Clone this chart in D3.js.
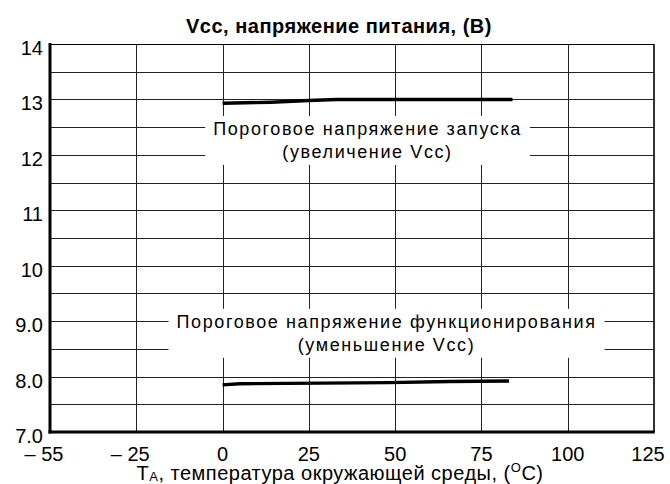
<!DOCTYPE html>
<html lang="ru">

<head>
    <meta charset="UTF-8" />
    <title>Vcc threshold vs temperature</title>
    <script src="https://d3js.org/d3.v7.js"></script>
    <style>
        body { margin: 0; background: #fff; }
        svg { display: block; font-family: "Liberation Sans", Arial, sans-serif; }
    </style>
</head>

<body>
    <script>

        var w = 670;
        var h = 484;

        // x ticks (degrees C) are spaced evenly on the original chart
        var tempTicks = [-55, -25, 0, 25, 50, 75, 100, 125];
        var tempLabels = ["\u2013 55", "\u2013 25", "0", "25", "50", "75", "100", "125"];

        var voltTicks = [7, 8, 9, 10, 11, 12, 13, 14];
        var voltLabels = ["7.0", "8.0", "9.0", "10", "11", "12", "13", "14"];

        // start threshold (Vcc rising)
        var startTemp = [0, 14, 25, 33, 84];
        var startVolt = [12.93, 12.95, 12.98, 13.0, 13.0];

        // operating threshold (Vcc falling)
        var stopTemp = [0, 5, 48, 66, 83];
        var stopVolt = [7.85, 7.87, 7.89, 7.91, 7.92];

        var titleText = "Vcc, напряжение питания, (В)";
        var startLabel = ["Пороговое напряжение запуска", "(увеличение Vcc)"];
        var stopLabel = ["Пороговое напряжение функционирования", "(уменьшение Vcc)"];

        // plot frame (window.top is read-only, so no plain "top")
        var plotL = 50, plotR = 654, plotT = 44, plotB = 432;

        var xScale = d3.scaleLinear()
            .domain(tempTicks)
            .range(tempTicks.map(function (d, i) {
                return plotL + i * (plotR - plotL) / (tempTicks.length - 1);
            }));

        var yScale = d3.scaleLinear()
            .domain([7, 14])
            .range([plotB, plotT]);

        var svg = d3.select("body")
            .append("svg")
            .attr("width", w)
            .attr("height", h);

        // grid, every 0.5 V
        var halfSteps = d3.range(7.5, 14, 0.5);
        svg.selectAll(".hgrid")
            .data(halfSteps)
            .enter()
            .append("line")
            .attr("class", "hgrid")
            .attr("x1", plotL).attr("x2", plotR)
            .attr("y1", function (d) { return Math.round(yScale(d)) + 0.5; })
            .attr("y2", function (d) { return Math.round(yScale(d)) + 0.5; })
            .attr("stroke", "#222")
            .attr("stroke-width", 1);

        svg.selectAll(".vgrid")
            .data(tempTicks.slice(1, -1))
            .enter()
            .append("line")
            .attr("class", "vgrid")
            .attr("x1", function (d) { return Math.round(xScale(d)) + 0.5; })
            .attr("x2", function (d) { return Math.round(xScale(d)) + 0.5; })
            .attr("y1", plotT).attr("y2", plotB)
            .attr("stroke", "#222")
            .attr("stroke-width", 1);

        // curve labels with white boxes that cut the grid
        function addLabel(lines, t, v) {
            var g = svg.append("g");
            var box = g.append("rect").attr("fill", "#fff");
            var txt = g.append("text")
                .attr("text-anchor", "middle")
                .attr("font-size", 18)
                .attr("letter-spacing", 1.6)
                .attr("fill", "#000");
            lines.forEach(function (s, i) {
                txt.append("tspan")
                    .attr("x", xScale(t))
                    .attr("y", yScale(v) + i * 23)
                    .text(s);
            });
            var bb = txt.node().getBBox();
            box.attr("x", bb.x - 8)
                .attr("y", bb.y - 3)
                .attr("width", bb.width + 16)
                .attr("height", bb.height + 6);
        }
        addLabel(startLabel, 42, 12.36);
        addLabel(stopLabel, 47.5, 8.88);

        // data lines
        var line = d3.line()
            .x(function (d) { return xScale(d[0]); })
            .y(function (d) { return yScale(d[1]); });

        [d3.zip(startTemp, startVolt), d3.zip(stopTemp, stopVolt)].forEach(function (pts) {
            svg.append("path")
                .attr("d", line(pts))
                .attr("fill", "none")
                .attr("stroke", "#000")
                .attr("stroke-width", 3.4);
        });

        // frame: thick left and bottom, thin top and right
        svg.append("line")
            .attr("x1", plotL).attr("x2", plotR)
            .attr("y1", plotT + 0.5).attr("y2", plotT + 0.5)
            .attr("stroke", "#000").attr("stroke-width", 1.2);
        svg.append("line")
            .attr("x1", plotR).attr("x2", plotR)
            .attr("y1", plotT).attr("y2", plotB)
            .attr("stroke", "#000").attr("stroke-width", 1.6);
        svg.append("line")
            .attr("x1", plotL).attr("x2", plotL)
            .attr("y1", plotT - 1).attr("y2", plotB + 1.5)
            .attr("stroke", "#000").attr("stroke-width", 3);
        svg.append("line")
            .attr("x1", plotL - 1.5).attr("x2", plotR + 0.8)
            .attr("y1", plotB).attr("y2", plotB)
            .attr("stroke", "#000").attr("stroke-width", 3);

        // tick labels
        svg.selectAll(".ylab")
            .data(voltTicks)
            .enter()
            .append("text")
            .attr("class", "ylab")
            .attr("x", plotL - 7)
            .attr("y", function (d) { return yScale(d) + 11; })
            .attr("text-anchor", "end")
            .attr("font-size", 20)
            .text(function (d, i) { return voltLabels[i]; });

        svg.selectAll(".xlab")
            .data(tempTicks)
            .enter()
            .append("text")
            .attr("class", "xlab")
            .attr("x", function (d) { return xScale(d); })
            .attr("dx", function (d) { return d < 0 ? -6 : (d == 125 ? -6 : 0); })
            .attr("y", plotB + 29)
            .attr("text-anchor", "middle")
            .attr("font-size", 20)
            .text(function (d, i) { return tempLabels[i]; });

        // titles
        svg.append("text")
            .attr("x", 339)
            .attr("y", 33)
            .attr("text-anchor", "middle")
            .attr("font-size", 20)
            .attr("font-weight", "bold")
            .attr("letter-spacing", 0.5)
            .text(titleText);

        var xt = svg.append("text")
            .attr("x", 340)
            .attr("y", 480)
            .attr("text-anchor", "middle")
            .attr("font-size", 20)
            .attr("letter-spacing", 0.5);
        xt.append("tspan").text("T");
        xt.append("tspan").attr("font-size", 13).attr("dy", 1).text("A");
        xt.append("tspan").attr("dy", -1).text(", температура окружающей среды, (");
        xt.append("tspan").attr("font-size", 13).attr("dy", -8).text("O");
        xt.append("tspan").attr("dy", 8).text("C)");

    </script>
</body>

</html>
